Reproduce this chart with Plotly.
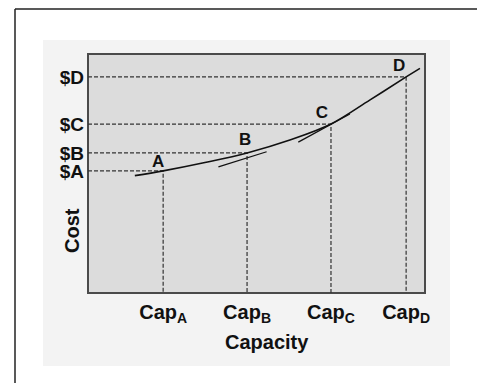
import plotly.graph_objects as go

# ---- data (axis units 0..100) ----
cap_names = ["A", "B", "C", "D"]
cap_x = [22.3, 47.2, 72.1, 94.4]          # capacity positions
cost_y = [51.1, 58.6, 70.7, 90.4]         # cost levels
cap_ticktext = ["Cap<sub>A</sub>", "Cap<sub>B</sub>", "Cap<sub>C</sub>", "Cap<sub>D</sub>"]
cost_ticktext = ["$A", "$B", "$C", "$D"]

curve_x = [13.9, 22.3, 34.7, 47.2, 59.9, 72.1, 83.7, 94.4, 98.5]
curve_y = [49.1, 51.1, 54.6, 58.6, 64.0, 70.7, 80.8, 90.4, 94.0]

tangent_b_x = [38.7, 53.0]
tangent_b_y = [52.8, 59.1]
tangent_c_x = [62.4, 77.7]
tangent_c_y = [63.1, 74.9]

label_x = [20.8, 46.6, 69.4, 92.3]
label_y = [54.5, 63.5, 74.9, 94.7]

FONT = "Liberation Sans, Arial, Helvetica, sans-serif"

fig = go.Figure()

# dashed guide lines
for cx, cy in zip(cap_x, cost_y):
    fig.add_trace(go.Scatter(x=[0, cx, cx], y=[cy, cy, 0], mode="lines",
                             line=dict(color="#333333", width=1.2, dash="4px,2px"),
                             hoverinfo="skip", showlegend=False))

# tangents
for tx, ty in [(tangent_b_x, tangent_b_y), (tangent_c_x, tangent_c_y)]:
    fig.add_trace(go.Scatter(x=tx, y=ty, mode="lines",
                             line=dict(color="#111111", width=1.3),
                             hoverinfo="skip", showlegend=False))

# cost curve
fig.add_trace(go.Scatter(x=curve_x, y=curve_y, mode="lines",
                         line=dict(color="#111111", width=1.6, shape="spline", smoothing=1.0),
                         hoverinfo="skip", showlegend=False))

# point letters
fig.add_trace(go.Scatter(x=label_x, y=label_y, mode="text", text=cap_names,
                         textfont=dict(family=FONT, size=17, color="#111111", weight="bold"),
                         hoverinfo="skip", showlegend=False))

W, H = 477, 383
L, R, T, B = 88, 52, 54, 90
pw, ph = W - L - R, H - T - B

def px(x):
    return (x - L) / pw

def py(y):
    return (H - B - y) / ph

shapes = [
    # light panel
    dict(type="rect", xref="paper", yref="paper", x0=px(43), x1=px(450), y0=py(366), y1=py(40),
         fillcolor="#f3f3f3", line=dict(width=0), layer="below"),
    # plot area
    dict(type="rect", xref="paper", yref="paper", x0=0, x1=1, y0=0, y1=1,
         fillcolor="#dcdcdc", line=dict(color="#4a4a4a", width=2), layer="below"),
    # outer frame
    dict(type="line", xref="paper", yref="paper", x0=px(15), x1=px(15), y0=py(9), y1=py(390),
         line=dict(color="#222222", width=1.5)),
    dict(type="line", xref="paper", yref="paper", x0=px(15), x1=px(480), y0=py(9), y1=py(9),
         line=dict(color="#222222", width=1.5)),
]

annotations = [
    dict(text="Capacity", xref="paper", yref="paper", x=px(267), y=py(342), showarrow=False,
         font=dict(family=FONT, size=20, color="#111111", weight="bold"), xanchor="center", yanchor="middle"),
    dict(text="Cost", xref="paper", yref="paper", x=px(72), y=py(231), showarrow=False, textangle=-90,
         font=dict(family=FONT, size=20, color="#111111", weight="bold"), xanchor="center", yanchor="middle"),
]

fig.update_layout(
    width=W, height=H,
    margin=dict(l=L, r=R, t=T, b=B),
    paper_bgcolor="white",
    plot_bgcolor="rgba(0,0,0,0)",
    shapes=shapes,
    annotations=annotations,
    xaxis=dict(range=[0, 100], showgrid=False, zeroline=False, showline=False,
               tickvals=cap_x, ticktext=cap_ticktext, ticks="", ticklabelstandoff=5,
               tickfont=dict(family=FONT, size=20, color="#111111", weight="bold")),
    yaxis=dict(range=[0, 100], showgrid=False, zeroline=False, showline=False,
               tickvals=cost_y, ticktext=cost_ticktext, ticks="", ticklabelstandoff=3,
               tickfont=dict(family=FONT, size=19, color="#111111", weight="bold")),
    showlegend=False,
)

fig.write_html("out.html", config={"displayModeBar": False},
               post_script="document.body.style.margin='0';document.body.style.overflow='hidden';")
